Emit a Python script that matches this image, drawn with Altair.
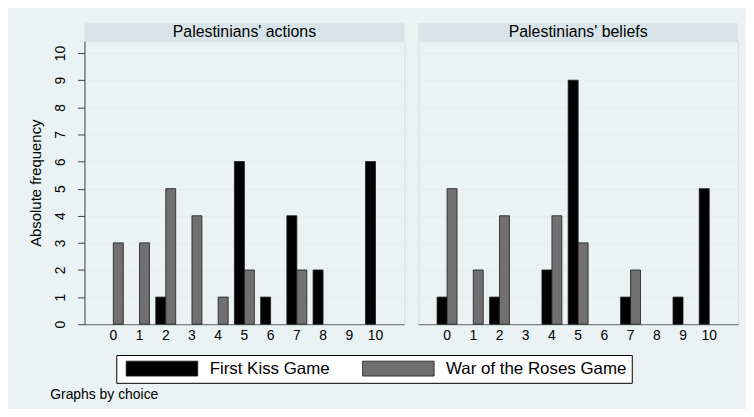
import altair as alt
import pandas as pd

choices = list(range(11))
games = ["First Kiss Game", "War of the Roses Game"]
panels = ["Palestinians' actions", "Palestinians' beliefs"]

actions_first_kiss = [0, 0, 1, 0, 0, 6, 1, 4, 2, 0, 6]
actions_war_roses = [3, 3, 5, 4, 1, 2, 0, 2, 0, 0, 0]
beliefs_first_kiss = [1, 0, 1, 0, 2, 9, 0, 1, 0, 1, 5]
beliefs_war_roses = [5, 2, 4, 0, 4, 3, 0, 2, 0, 0, 0]

y_ticks = list(range(11))
note_text = "Graphs by choice"
y_title = "Absolute frequency"

series = {
    panels[0]: {games[0]: actions_first_kiss, games[1]: actions_war_roses},
    panels[1]: {games[0]: beliefs_first_kiss, games[1]: beliefs_war_roses},
}
rows = []
for p, gd in series.items():
    for g, vals in gd.items():
        for c, v in zip(choices, vals):
            if v > 0:
                rows.append({"panel": p, "game": g, "choice": c, "count": v})
data = pd.DataFrame(rows)

FONT = "Liberation Sans"
PW, PH = 322, 285
BG = "#EAF2F3"
STRIP = "#D8E4E9"
GRID = "#E3EDEF"

# legend swatch: 72x15 rectangle drawn from a 15px layout symbol
SWATCH = "M-0.467,-1H9.133V1H-0.467Z"


def panel(name, left):
    df = data[data.panel == name]
    if left:
        yaxis = alt.Axis(title=y_title, values=y_ticks, labelAngle=270, labelAlign="center",
                         labelBaseline="bottom", tickSize=7, labelPadding=10, titlePadding=10,
                         labelFontSize=14, titleFontSize=15, titleFontWeight="normal",
                         grid=True, gridColor=GRID, domainColor="#444", tickColor="#444",
                         labelColor="#000", titleColor="#000")
    else:
        yaxis = alt.Axis(title=None, values=y_ticks, labels=False, ticks=False, domain=False,
                         grid=True, gridColor=GRID, minExtent=0, maxExtent=0)
    bars = alt.Chart(df).mark_bar(stroke="#1c1c1c", strokeWidth=0.8, opacity=1).encode(
        x=alt.X("choice:O", scale=alt.Scale(domain=choices, paddingInner=0.24, paddingOuter=0.72),
                axis=alt.Axis(title=None, labelAngle=0, ticks=False, labelFontSize=14, labelPadding=4,
                              domainColor="#666", labelColor="#000", grid=False)),
        xOffset=alt.XOffset("game:N", scale=alt.Scale(domain=games)),
        y=alt.Y("count:Q", scale=alt.Scale(domain=[0, 10.44], nice=False, zero=True), axis=yaxis),
        color=alt.Color("game:N", scale=alt.Scale(domain=games, range=["#000000", "#707070"]),
                        legend=alt.Legend(title=None, orient="none", legendX=32, legendY=316,
                                          direction="horizontal",
                                          symbolType=SWATCH,
                                          symbolSize=225, symbolStrokeColor="#1c1c1c",
                                          symbolStrokeWidth=0.8, symbolOpacity=1,
                                          labelFontSize=17, labelOffset=72, columnPadding=28,
                                          labelLimit=400,
                                          padding=5, strokeColor="#000", fillColor="#FFFFFF",
                                          labelColor="#000", labelFont=FONT)),
    )
    head_df = pd.DataFrame({"panel": [name]})
    strip = alt.Chart(head_df).mark_rect(color=STRIP).encode(
        x=alt.value(0), x2=alt.value(PW), y=alt.value(-18), y2=alt.value(0))
    label = alt.Chart(head_df).mark_text(fontSize=16, font=FONT, color="#000", baseline="middle").encode(
        x=alt.value(PW / 2), y=alt.value(-9), text="panel:N")
    return alt.layer(strip, label, bars).properties(width=PW, height=PH)


chart = alt.hconcat(panel(panels[0], True), panel(panels[1], False), spacing=12).properties(
    padding={"left": 20, "top": 13, "right": 7, "bottom": 5},
    background=BG,
    title=alt.TitleParams(note_text, orient="bottom", anchor="start", fontSize=14, fontWeight="normal",
                          font=FONT, color="#000", dx=22, offset=5),
).configure_view(fill="#FFFFFF", stroke=None).configure(font=FONT)

chart.save("out.html", embed_options={"renderer": "svg", "actions": False})
